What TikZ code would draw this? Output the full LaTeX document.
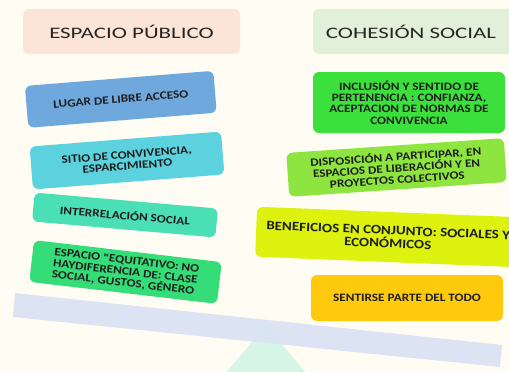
\documentclass[tikz,border=0pt]{standalone}
\usepackage{fontspec}
\setmainfont{Carlito}
\newfontfamily\bfont[FakeStretch=1.17]{Carlito Bold}
\newfontfamily\hfont[FakeStretch=1.43]{Carlito}
\definecolor{bg}{HTML}{FFFCF4}
\definecolor{txt}{HTML}{1E1E1E}
\definecolor{htxt}{HTML}{262626}
\definecolor{peach}{HTML}{FBE5D6}
\definecolor{lgreen}{HTML}{E2F0D9}
\definecolor{cblue}{HTML}{6FA8DC}
\definecolor{ccyan}{HTML}{5CD2DE}
\definecolor{cmint}{HTML}{4ADFB4}
\definecolor{cgreen}{HTML}{35DD78}
\definecolor{rgreen}{HTML}{3CE03C}
\definecolor{rlime}{HTML}{8EE53F}
\definecolor{ryellow}{HTML}{DDF20F}
\definecolor{rorange}{HTML}{FFC90E}
\definecolor{beamc}{HTML}{DAE3F3}
\definecolor{fulc}{HTML}{D6F5E7}
\tikzset{
  box/.style={rounded corners=6pt, inner sep=0pt, align=center, text=txt,
    font=\bfont\fontsize{11.3}{11.3}\selectfont},
  head/.style={rounded corners=6pt, inner sep=0pt, text=htxt,
    font=\hfont\fontsize{16}{18}\selectfont},
}
\begin{document}
\begin{tikzpicture}[x=1pt,y=-1pt]
\fill[bg] (0,0) rectangle (509,372);
\useasboundingbox (0,0) rectangle (509,372);
% fulcrum and beam
\fill[fulc] (266,326) -- (224,375) -- (308,375) -- cycle;
\fill[beamc, opacity=0.92] (15,293) -- (502,345) -- (500,367) -- (13,317) -- cycle;
% headers
\node[head, fill=peach, minimum width=217pt, minimum height=45pt] (h1) at (131.5,31.5) {ESPACIO PÚBLICO};
\node[head, fill=lgreen, minimum width=204pt, minimum height=45pt] (h2) at (415,31.5) {\hspace*{-8pt}COHESIÓN SOCIAL};
% left boxes
\node[box, fill=cblue, minimum width=189pt, minimum height=42pt, rotate=4.6] (b1) at (120.8,99.3) {LUGAR DE LIBRE ACCESO};
\node[box, fill=ccyan, minimum width=192pt, minimum height=43pt, rotate=4.5] (b2) at (127,160.5) {SITIO DE CONVIVENCIA,\\ESPARCIMIENTO};
\node[box, fill=cmint, minimum width=184pt, minimum height=29pt, rotate=-5] (b3) at (125,215) {INTERRELACIÓN SOCIAL};
\node[box, fill=cgreen, minimum width=189pt, minimum height=42pt, rotate=-6.7, align=left] (b4) at (125.5,272) {ESPACIO "EQUITATIVO: NO\\HAYDIFERENCIA DE: CLASE\\SOCIAL, GUSTOS, GÉNERO};
% right boxes
\node[box, fill=rgreen, minimum width=192pt, minimum height=61pt] (r1) at (409,102.5) {INCLUSIÓN Y SENTIDO DE\\PERTENENCIA : CONFIANZA,\\ACEPTACION DE NORMAS DE\\CONVIVENCIA};
\node[box, fill=rlime, minimum width=218pt, minimum height=44pt, rotate=3.9] (r2) at (396.5,167.5) {DISPOSICIÓN A PARTICIPAR, EN\\ESPACIOS DE LIBERACIÓN Y EN\\PROYECTOS COLECTIVOS};
\node[box, fill=ryellow, minimum width=264pt, minimum height=50pt, rotate=-2.3, font=\bfont\fontsize{12.8}{13}\selectfont] (r3) at (388,237) {BENEFICIOS EN CONJUNTO: SOCIALES Y\\ECONÓMICOS};
\node[box, fill=rorange, minimum width=192pt, minimum height=46pt] (r4) at (407,298) {SENTIRSE PARTE DEL TODO};
\end{tikzpicture}
\end{document}
